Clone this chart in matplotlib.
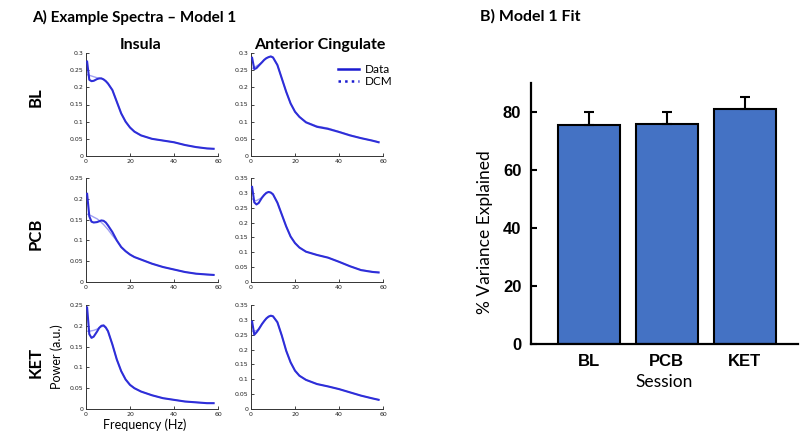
import matplotlib
matplotlib.use("Agg")
import matplotlib.pyplot as plt
from matplotlib.ticker import FuncFormatter
from matplotlib.lines import Line2D

# ---------------- data ----------------
freq = [0.5, 1.5, 2.5, 3.5, 5, 6, 7, 8, 9, 10, 12, 14, 16, 18, 20, 22, 25, 30, 35, 40, 45, 50, 55, 58]

bl_ins_data = [0.275, 0.222, 0.218, 0.219, 0.224, 0.226, 0.226, 0.223, 0.218, 0.211, 0.192, 0.158, 0.124,
               0.100, 0.083, 0.071, 0.060, 0.050, 0.045, 0.040, 0.032, 0.026, 0.022, 0.021]
bl_ins_dcm = [0.237, 0.235, 0.233, 0.231, 0.228, 0.226, 0.226, 0.223, 0.218, 0.211, 0.192, 0.158, 0.124,
              0.100, 0.083, 0.071, 0.060, 0.050, 0.045, 0.040, 0.032, 0.026, 0.022, 0.021]
bl_acc_data = [0.286, 0.253, 0.256, 0.263, 0.273, 0.280, 0.285, 0.288, 0.290, 0.287, 0.265, 0.226, 0.187,
               0.153, 0.129, 0.114, 0.098, 0.085, 0.079, 0.070, 0.060, 0.052, 0.045, 0.040]
bl_acc_dcm = [0.255, 0.258, 0.262, 0.266, 0.273, 0.280, 0.285, 0.288, 0.290, 0.287, 0.265, 0.226, 0.187,
              0.153, 0.129, 0.114, 0.099, 0.087, 0.081, 0.071, 0.061, 0.052, 0.045, 0.041]
pcb_ins_data = [0.212, 0.158, 0.145, 0.143, 0.144, 0.146, 0.148, 0.147, 0.143, 0.136, 0.120, 0.100, 0.084,
                0.074, 0.066, 0.060, 0.054, 0.044, 0.036, 0.030, 0.024, 0.020, 0.018, 0.017]
pcb_ins_dcm = [0.163, 0.161, 0.159, 0.156, 0.152, 0.148, 0.143, 0.138, 0.132, 0.126, 0.112, 0.099, 0.084,
               0.074, 0.066, 0.060, 0.054, 0.044, 0.036, 0.030, 0.024, 0.020, 0.018, 0.017]
pcb_acc_data = [0.320, 0.268, 0.261, 0.266, 0.284, 0.293, 0.300, 0.303, 0.301, 0.295, 0.267, 0.227, 0.187,
                0.153, 0.131, 0.116, 0.102, 0.091, 0.082, 0.068, 0.053, 0.040, 0.034, 0.032]
pcb_acc_dcm = [0.280, 0.274, 0.274, 0.278, 0.284, 0.293, 0.300, 0.303, 0.301, 0.295, 0.267, 0.227, 0.187,
               0.153, 0.131, 0.116, 0.102, 0.091, 0.082, 0.068, 0.053, 0.041, 0.035, 0.033]
ket_ins_data = [0.244, 0.180, 0.171, 0.174, 0.186, 0.195, 0.200, 0.201, 0.196, 0.187, 0.155, 0.119, 0.091,
                0.071, 0.058, 0.050, 0.042, 0.033, 0.026, 0.022, 0.018, 0.016, 0.014, 0.014]
ket_ins_dcm = [0.187, 0.187, 0.188, 0.189, 0.192, 0.195, 0.198, 0.199, 0.195, 0.187, 0.155, 0.119, 0.091,
               0.071, 0.058, 0.050, 0.042, 0.033, 0.026, 0.022, 0.018, 0.016, 0.014, 0.014]
ket_acc_data = [0.294, 0.250, 0.258, 0.268, 0.286, 0.296, 0.305, 0.311, 0.314, 0.312, 0.292, 0.247, 0.196,
                0.157, 0.129, 0.112, 0.098, 0.084, 0.076, 0.067, 0.056, 0.045, 0.036, 0.031]
ket_acc_dcm = [0.262, 0.262, 0.264, 0.270, 0.286, 0.296, 0.305, 0.311, 0.314, 0.312, 0.292, 0.247, 0.196,
               0.157, 0.129, 0.112, 0.098, 0.084, 0.076, 0.067, 0.056, 0.045, 0.036, 0.031]

row_labels = ["BL", "PCB", "KET"]
col_titles = ["Insula", "Anterior Cingulate"]
ymax_grid = [[0.30, 0.30], [0.25, 0.35], [0.25, 0.35]]
x_ticks = [0, 20, 40, 60]

sessions = ["BL", "PCB", "KET"]
variance = [75.6, 75.9, 81.0]
variance_err = [4.4, 4.1, 4.3]
bar_yticks = [0, 20, 40, 60, 80]

# ---------------- figure ----------------
fig = plt.figure(figsize=(8.0, 4.33), dpi=100)
W, H = 800.0, 433.0

def ax_at(left, top, right, bottom):
    return fig.add_axes([left / W, 1 - bottom / H, (right - left) / W, (bottom - top) / H])

data_color = "#2e2ed8"
dcm_color = "#a0a0f2"
label_font = "Lato"

panels = [[(bl_ins_data, bl_ins_dcm), (bl_acc_data, bl_acc_dcm)],
          [(pcb_ins_data, pcb_ins_dcm), (pcb_acc_data, pcb_acc_dcm)],
          [(ket_ins_data, ket_ins_dcm), (ket_acc_data, ket_acc_dcm)]]
col_x = [(86, 218), (251, 383)]
row_y = [(53, 156), (178, 282), (305, 409)]
row_label_y = [97, 234, 362]

fmt = FuncFormatter(lambda v, p: "%g" % round(v, 3))
axes_grid = []
for r in range(3):
    row_axes = []
    for c in range(2):
        ax = ax_at(col_x[c][0], row_y[r][0], col_x[c][1], row_y[r][1])
        d, m = panels[r][c]
        ax.plot(freq, m, color=dcm_color, lw=1.0, zorder=2, solid_joinstyle="round")
        ax.plot(freq, d, color=data_color, lw=1.5, zorder=3, solid_joinstyle="round")
        ymax = ymax_grid[r][c]
        ax.set_xlim(0, 60)
        ax.set_ylim(0, ymax)
        ax.set_xticks(x_ticks)
        n = int(round(ymax / 0.05))
        ax.set_yticks([0.05 * i for i in range(n + 1)])
        ax.yaxis.set_major_formatter(fmt)
        ax.tick_params(direction="in", length=2, width=0.6, labelsize=4.5, pad=2, colors="#222222")
        for s in ["top", "right"]:
            ax.spines[s].set_visible(False)
        for s in ["left", "bottom"]:
            ax.spines[s].set_linewidth(0.7)
            ax.spines[s].set_color("#333333")
        row_axes.append(ax)
    axes_grid.append(row_axes)

# legend in top-right panel
handles = [Line2D([], [], color="#1a1ad0", lw=1.8, ls="-"),
           Line2D([], [], color="#1a1ad0", lw=1.8, ls=":")]
axes_grid[0][1].legend(handles, ["Data", "DCM"], loc="upper left",
                       bbox_to_anchor=(0.62, 0.94), frameon=False,
                       prop={"family": label_font, "size": 8.5},
                       handlelength=1.8, handletextpad=0.5, labelspacing=0.1,
                       borderaxespad=0)

# column titles
fig.text(141 / W, 1 - 45 / H, col_titles[0], ha="center", va="center",
         fontsize=11.5, fontweight="bold", family=label_font)
fig.text(320 / W, 1 - 45 / H, col_titles[1], ha="center", va="center",
         fontsize=11.5, fontweight="bold", family=label_font)
# row labels
for r, lab in enumerate(row_labels):
    fig.text(36 / W, 1 - row_label_y[r] / H, lab, ha="center", va="center", rotation=90,
             fontsize=12, fontweight="bold", family=label_font)
fig.text(57 / W, 1 - 357 / H, "Power (a.u.)", ha="center", va="center", rotation=90,
         fontsize=9, family=label_font)
fig.text(145 / W, 1 - 425 / H, "Frequency (Hz)", ha="center", va="center",
         fontsize=9, family=label_font)

fig.text(32 / W, 1 - 17 / H, "A) Example Spectra \u2013 Model 1", ha="left", va="center",
         fontsize=11, fontweight="bold", family=label_font)
fig.text(480 / W, 1 - 16 / H, "B) Model 1 Fit", ha="left", va="center",
         fontsize=11.5, fontweight="bold", family=label_font)

# ---------------- bar chart ----------------
bax = ax_at(531, 83, 798, 344)
xpos = list(range(len(sessions)))
bax.bar(xpos, variance, width=0.8, color="#4472c4", edgecolor="black", linewidth=1.5, zorder=2)
bax.errorbar(xpos, variance, yerr=[[0] * len(variance), variance_err], fmt="none",
             ecolor="black", elinewidth=1.5, capsize=3.5, capthick=1.5, zorder=3)
bax.set_xlim(-0.74, 2.68)
bax.set_ylim(0, 90)
bax.set_xticks(xpos)
bax.set_xticklabels(sessions)
bax.set_yticks(bar_yticks)
for s in ["top", "right"]:
    bax.spines[s].set_visible(False)
for s in ["left", "bottom"]:
    bax.spines[s].set_linewidth(1.6)
bax.tick_params(direction="in", length=4, width=1.5, pad=7)
for lab in bax.get_xticklabels() + bax.get_yticklabels():
    lab.set_fontfamily("Liberation Sans")
    lab.set_fontweight("bold")
    lab.set_fontsize(12)
bax.set_ylabel("% Variance Explained", family=label_font, fontsize=12.5)
bax.yaxis.set_label_coords(-0.142, 0.43)
bax.set_xlabel("Session", family=label_font, fontsize=12.5, labelpad=4)

fig.savefig("out.png", dpi=100)
